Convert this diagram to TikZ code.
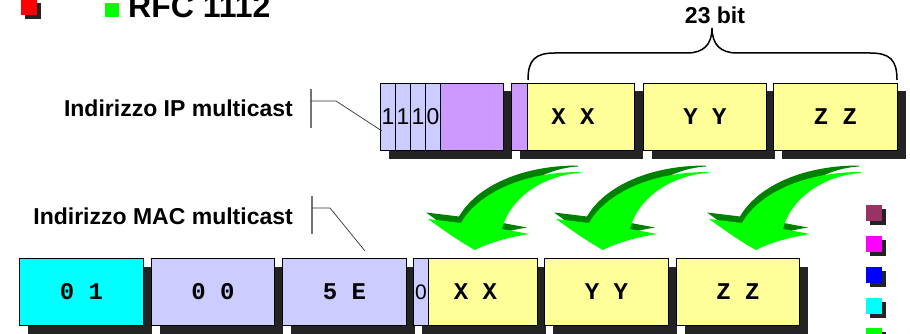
\documentclass[tikz,border=0pt]{standalone}
\usepackage{fontspec}
\setmainfont{Liberation Sans}
\setmonofont{Liberation Mono}
\usetikzlibrary{shadows}
\definecolor{lavender}{HTML}{CCCCFF}
\definecolor{lilac}{HTML}{CC99FF}
\definecolor{paleyellow}{HTML}{FFFF99}
\definecolor{aqua}{HTML}{00FFFF}
\definecolor{fuchsia}{HTML}{FF00FF}
\definecolor{pureblue}{HTML}{0000FF}
\definecolor{purered}{HTML}{FF0000}
\definecolor{shadowgray}{HTML}{232323}
\definecolor{arrowgreen}{HTML}{00FF00}
\definecolor{arrowdark}{HTML}{008000}
\definecolor{wine}{HTML}{993366}
\newcommand{\bendarrowpath}{(50,88) .. controls (35,80) and (17,67) .. (3,57) -- (36,61)
  .. controls (52,33) and (95,10) .. (155,10) -- (155,11)
  .. controls (120,13) and (85,35) .. (77,67) -- (104,72)
  .. controls (86,75) and (65,80) .. cycle}

\begin{document}
\begin{tikzpicture}[x=1pt, y=-1pt,
  field/.style={draw, line width=1pt, anchor=north west, inner sep=0pt, minimum height=67pt,
    font=\ttfamily\bfseries\fontsize{24}{24}\selectfont,
    drop shadow={shadow xshift=8pt, shadow yshift=-8pt, fill=shadowgray, opacity=1}},
  bit/.style={field, fill=lavender, minimum width=15pt, font=\fontsize{23}{23}\selectfont},
  pad/.style={draw, line width=1pt, anchor=north west, inner sep=0pt, minimum height=67pt,
    minimum width=15pt, font=\fontsize{21}{21}\selectfont},
  lbl/.style={anchor=base east, inner sep=0pt, font=\bfseries\fontsize{23}{23}\selectfont},
  sq/.style={anchor=north west, inner sep=0pt, minimum size=16pt,
    drop shadow={shadow xshift=4pt, shadow yshift=-4pt, fill=shadowgray, opacity=1}},
  bar/.style={draw=black!55, line width=1.2pt},
  callout/.style={draw=black!80, line width=0.7pt},
  green arrow/.pic={
    \fill[arrowdark, xshift=-2pt, yshift=6.5pt] \bendarrowpath;
    \fill[arrowgreen] \bendarrowpath;
  }]
\useasboundingbox (0,0) rectangle (910,334);
\clip (0,0) rectangle (910,334);

% title line
\node[sq, fill=purered] (redsq) at (21,-1) {};
\node[anchor=north west, inner sep=0pt, minimum size=14pt, fill=arrowgreen] (greensq) at (105,3) {};
\node[anchor=base west, inner sep=0pt, font=\bfseries\fontsize{32}{32}\selectfont] (rfc) at (128,18) {RFC 1112};

% IP address
\node[bit] (ip1) at (380,83) {1};
\node[bit] (ip2) at (395,83) {1};
\node[bit] (ip3) at (410,83) {1};
\node[bit] (ip4) at (425,83) {0};
\node[field, fill=lilac, minimum width=63pt] (ip5) at (440,83) {};
\node[field, fill=paleyellow, minimum width=123pt] (ipx) at (511,83) {X X};
\node[pad, fill=lilac, minimum width=16pt] (ipb) at (511,83) {};
\node[field, fill=paleyellow, minimum width=123pt] (ipy) at (643,83) {Y Y};
\node[field, fill=paleyellow, minimum width=124pt] (ipz) at (773,83) {Z Z};

% 23 bit
\node[anchor=base, inner sep=0pt, font=\bfseries\fontsize{23}{23}\selectfont] (bits) at (715,24) {23 bit};
\draw[line width=1.5pt] (528,80) .. controls (528,60) and (535,53) .. (555,53) -- (687,53)
  .. controls (703,53) and (712,45) .. (712,28) .. controls (712,45) and (721,53) .. (737,53)
  -- (870,53) .. controls (890,53) and (897,60) .. (897,80);

% MAC address
\node[field, fill=aqua, minimum width=124pt] (mac1) at (19,258) {0 1};
\node[field, fill=lavender, minimum width=123pt] (mac2) at (151,258) {0 0};
\node[field, fill=lavender, minimum width=124pt] (mac3) at (282,258) {5 E};
\node[field, fill=paleyellow, minimum width=124pt] (macx) at (413,258) {X X};
\node[pad, fill=lavender] (macb) at (413,258) {0};
\node[field, fill=paleyellow, minimum width=124pt] (macy) at (544,258) {Y Y};
\node[field, fill=paleyellow, minimum width=123pt] (macz) at (676,258) {Z Z};

% labels
\node[lbl] (iplbl) at (293,117) {Indirizzo IP multicast};
\node[lbl] (maclbl) at (293,224) {Indirizzo MAC multicast};
\coordinate (iptop) at (311,89);
\coordinate (ipbot) at (311,128);
\coordinate (ipknee) at (311,101);
\coordinate (ipelbow) at (336,101);
\coordinate (ipend) at (382,131);
\draw[bar] (iptop) -- (ipbot);
\draw[callout] (ipknee) -- (ipelbow) -- (ipend);
\coordinate (mactop) at (312,196);
\coordinate (macbot) at (312,234);
\coordinate (macknee) at (312,208);
\coordinate (macelbow) at (330,208);
\coordinate (macend) at (365,251);
\draw[bar] (mactop) -- (macbot);
\draw[callout] (macknee) -- (macelbow) -- (macend);

% arrows
\pic at (425,162) {green arrow};
\pic at (553,162) {green arrow};
\pic at (706,162) {green arrow};

% colour squares
\node[sq, fill=wine] (sq1) at (866,205) {};
\node[sq, fill=fuchsia] (sq2) at (866,236) {};
\node[sq, fill=pureblue] (sq3) at (866,267) {};
\node[sq, fill=aqua] (sq4) at (866,298) {};
\node[sq, fill=arrowgreen] (sq5) at (866,328) {};
\end{tikzpicture}
\end{document}
